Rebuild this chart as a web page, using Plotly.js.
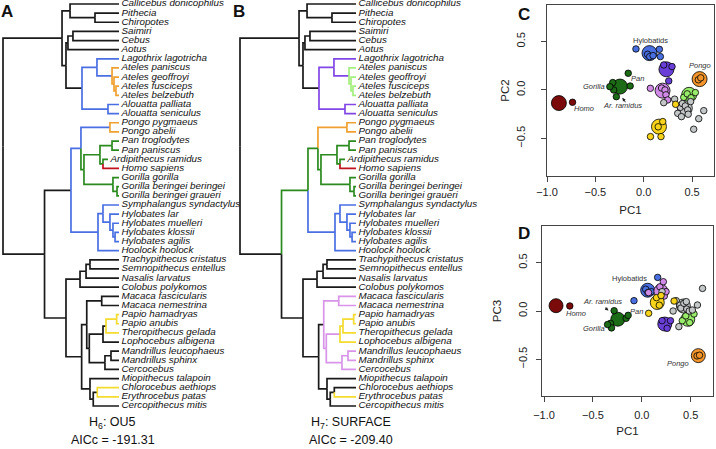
<!DOCTYPE html>
<html><head><meta charset="utf-8">
<script src="https://cdn.plot.ly/plotly-3.0.1.min.js"></script>
<style>html,body{margin:0;padding:0;background:#fff}#chart{width:716px;height:449px}</style>
</head><body><div id="chart"></div>
<script>
// ---------- tree data ----------
const tipLabels = [
 "Callicebus donicophilus","Pithecia","Chiropotes","Saimiri","Cebus","Aotus",
 "Lagothrix lagotricha","Ateles paniscus","Ateles geoffroyi","Ateles fusciceps","Ateles belzebuth",
 "Alouatta palliata","Alouatta seniculus","Pongo pygmaeus","Pongo abelii",
 "Pan troglodytes","Pan paniscus","Ardipithecus ramidus","Homo sapiens",
 "Gorilla gorilla","Gorilla beringei beringei","Gorilla beringei graueri",
 "Symphalangus syndactylus","Hylobates lar","Hylobates muelleri","Hylobates klossii","Hylobates agilis","Hoolock hoolock",
 "Trachypithecus cristatus","Semnopithecus entellus","Nasalis larvatus","Colobus polykomos",
 "Macaca fascicularis","Macaca nemestrina","Papio hamadryas","Papio anubis","Theropithecus gelada","Lophocebus albigena",
 "Mandrillus leucophaeus","Mandrillus sphinx","Cercocebus",
 "Miopithecus talapoin","Chlorocebus aethiops","Erythrocebus patas","Cercopithecus mitis"
];
// topology: tips are 1-based indices into tipLabels; ":d" = absolute node depth (root 0, extant tips 1)
const treeNewick = "(((1,(2,3):0.793):0.578,(((4,5):0.603,6):0.560,((7,(8,(9,(10,11):0.974):0.957):0.940):0.810,(12,13):0.905):0.681):0.543):0.509,((((14,15):0.922,(((16,17):0.940,(18:0.905,19):0.862):0.836,(20,(21,22):0.983):0.948):0.698):0.672,((23,(24,(25,(26,27):0.966):0.948):0.922):0.862,28):0.819):0.586,((((29,30):0.75,31):0.716,32):0.664,(((33,34):0.851,((((35,36):0.98,37):0.888,38):0.862,((39,40):0.931,41):0.879):0.744):0.722,(42,((43,44):0.813,45):0.778):0.75):0.678):0.543):0.358):0";
// regimes: [first tip, last tip, colour key, stem painted]
const regimesA = [[7,13,"blue",0],[8,11,"orange",0],[14,28,"blue",0],[14,15,"orange",0],[16,22,"green",1],[19,19,"red",1],[35,37,"yellow",0],[43,44,"yellow",0]];
const regimesB = [[7,13,"purple",0],[8,11,"lightgreen",0],[14,28,"green",1],[23,28,"blue",1],[14,15,"orange",1],[19,19,"red",1],[33,41,"pink",0],[35,38,"yellow",0],[44,44,"yellow",1]];
const treeTitleA = ["H<sub>6</sub>: OU5","AICc = -191.31"];
const treeTitleB = ["H<sub>7</sub>: SURFACE","AICc = -209.40"];

// ---------- PCA data ----------
const groups = ["Homo","AfricanApes","Hylobatids","Atelidae","Ateles","Papionini","Other","PapioLopho","Pongo"];
const homoPC1=[-0.736], homoPC2=[-0.127], homoPC3=[0.052];
const afrPC1=[-0.16,-0.14,-0.32,-0.31,-0.35,-0.283], afrPC2=[0.172,0.041,0.076,0.0,0.034,-0.069], afrPC3=[-0.076,-0.045,-0.128,-0.175,-0.14,0.003];
const hyloPC1=[-0.08,0.04,0.062,0.097,0.162,0.172], hyloPC2=[0.423,0.368,0.344,0.354,0.419,0.344], hyloPC3=[0.107,0.225,0.19,0.2,0.348,0.23];
const ateliPC1=[0.207,0.259,0.293], ateliPC2=[0.258,0.093,0.241], ateliPC3=[-0.1,-0.179,-0.1];
const atelesPC1=[0.414,0.45,0.49,0.534], atelesPC2=[-0.076,-0.04,-0.08,-0.027], atelesPC3=[-0.1,-0.05,-0.12,-0.031];
const papPC1=[0.069,0.185,0.22,0.23,0.248], papPC2=[0.017,0.02,0.0,-0.05,-0.103], papPC3=[0.19,0.25,0.303,0.155,0.2];
const othPC1=[0.207,0.32,0.352,0.379,0.39,0.40,0.43,0.455,0.46,0.485,0.517,0.569,0.621];
const othPC2=[-0.131,-0.095,-0.241,-0.179,-0.275,-0.14,-0.165,-0.206,-0.25,-0.12,-0.405,-0.296,-0.213];
const othPC3=[0.2,0.0,0.107,-0.162,0.06,0.03,0.08,0.097,0.02,0.0,0.01,0.062,0.234];
const plPC1=[0.07,0.15,0.179,0.197,0.33], plPC2=[-0.481,-0.38,-0.481,-0.326,-0.148], plPC3=[-0.024,0.138,0.06,0.16,0.103];
const pongoPC1=[0.565,0.59], pongoPC2=[0.105,0.125], pongoPC3=[-0.465,-0.458];
// regime optima (large circles), in group order
const optPC1=[-0.877,-0.245,0.06,0.235,0.47,0.195,0.425,0.158,0.578];
const optPC2=[-0.135,0.035,0.38,0.213,-0.05,-0.007,-0.188,-0.378,0.112];
const optPC3=[0.055,-0.085,0.215,-0.135,-0.086,0.205,0.052,0.088,-0.462];
const labelsC = [["Hylobatids",0.069,0.51,0],["Pan",-0.062,0.12,1],["Gorilla",-0.517,0.034,1],["Ar. ramidus",-0.224,-0.165,1],["Homo",-0.621,-0.192,1],["Pongo",0.586,0.248,1]];
const labelsD = [["Hylobatids",-0.122,0.338,0],["Ar. ramidus",-0.402,0.097,1],["Pan",-0.054,-0.007,1],["Homo",-0.669,-0.024,1],["Gorilla",-0.491,-0.179,1],["Pongo",0.373,-0.548,1]];

// ---------- styles ----------
const treeCol = {black:"#1a1a1a",blue:"#4a6fe3",orange:"#f0a030",green:"#2b8a1e",red:"#c1121f",yellow:"#f3dc2e",purple:"#8047e6",lightgreen:"#a4ef7d",pink:"#d894e9"};
const grpCol = {Homo:"#7b0a0a",AfricanApes:"#1c6b16",Hylobatids:"#4a6fe0",Atelidae:"#6a3fd8",Ateles:"#98ec6a",Papionini:"#cf8be6",Other:"#c3c7c7",PapioLopho:"#f7d419",Pongo:"#f3952a"};
const FONT = "Liberation Sans, Arial, Helvetica, sans-serif";
const LABEL_GAP = 2.5/116;

function parseNewick(s){
  let i=0;
  function node(){
    const n={children:[]};
    if(s[i]==='('){ i++; n.children.push(node()); while(s[i]===','){i++; n.children.push(node());} i++; }
    else { let t=''; while(/[0-9]/.test(s[i])) t+=s[i++]; n.tip=+t; }
    if(s[i]===':'){ i++; let t=''; while(/[0-9.]/.test(s[i])) t+=s[i++]; n.depth=+t; }
    else n.depth = n.tip ? 1 : 0;
    n.children.forEach(c=>c.parent=n);
    return n;
  }
  return node();
}
function layout(n){
  if(n.tip){ n.y=n.tip; n.lo=n.hi=n.tip; return; }
  n.children.forEach(layout);
  n.y=(n.children[0].y+n.children[n.children.length-1].y)/2;
  n.lo=Math.min(...n.children.map(c=>c.lo)); n.hi=Math.max(...n.children.map(c=>c.hi));
}
function all(n,arr){arr.push(n); n.children.forEach(c=>all(c,arr)); return arr;}
function buildTree(regimes, xa){
  const root=parseNewick(treeNewick); layout(root);
  const nodes=all(root,[]);
  nodes.forEach(n=>n.col="black");
  regimes.forEach(([a,b,c,stem])=>{
    const t=nodes.find(n=>n.lo===a&&n.hi===b&&(a!==b||n.tip));
    if(stem) t.col=c;
    all(t,[]).forEach(d=>{ if(d!==t) d.col=c; });
  });
  const segs={};
  nodes.forEach(n=>{
    if(!n.parent) return;
    const s=segs[n.col]||(segs[n.col]={x:[],y:[]});
    s.x.push(n.parent.depth,n.parent.depth,n.depth,null);
    s.y.push(n.parent.y,n.y,n.y,null);
  });
  const traces=[];
  ["black","blue","purple","lightgreen","orange","green","pink","yellow","red"].forEach(c=>{
    if(!segs[c]) return;
    traces.push({type:"scatter",mode:"lines",x:segs[c].x,y:segs[c].y,xaxis:xa,yaxis:"y",
      line:{color:treeCol[c],width:1.7},hoverinfo:"skip"});
  });
  const tips=nodes.filter(n=>n.tip);
  traces.push({type:"scatter",mode:"text",x:tips.map(n=>n.depth+LABEL_GAP),y:tips.map(n=>n.y),
    text:tips.map(n=>"<i>"+tipLabels[n.tip-1]+"</i>"),textposition:"middle right",cliponaxis:false,
    textfont:{family:FONT,size:9.8,color:"#111"},xaxis:xa,yaxis:"y",hoverinfo:"skip"});
  return traces;
}

const pcs = {
  Homo:[homoPC1,homoPC2,homoPC3], AfricanApes:[afrPC1,afrPC2,afrPC3], Hylobatids:[hyloPC1,hyloPC2,hyloPC3],
  Atelidae:[ateliPC1,ateliPC2,ateliPC3], Ateles:[atelesPC1,atelesPC2,atelesPC3], Papionini:[papPC1,papPC2,papPC3],
  Other:[othPC1,othPC2,othPC3], PapioLopho:[plPC1,plPC2,plPC3], Pongo:[pongoPC1,pongoPC2,pongoPC3]
};
function scatterTraces(yi, xa, ya, optY, bigSize){
  const tr=[];
  groups.forEach((g,k)=>{
    tr.push({type:"scatter",mode:"markers",x:[optPC1[k]],y:[optY[k]],xaxis:xa,yaxis:ya,
      marker:{size:bigSize,color:grpCol[g],line:{color:"#000",width:0.8}},hoverinfo:"skip"});
    tr.push({type:"scatter",mode:"markers",x:pcs[g][0],y:pcs[g][yi],xaxis:xa,yaxis:ya,
      marker:{size:6.5,color:grpCol[g],line:{color:"#000",width:0.8}},hoverinfo:"skip"});
  });
  return tr;
}

const data = [].concat(buildTree(regimesA,"x"), buildTree(regimesB,"x2"),
  scatterTraces(1,"x3","y3",optPC2,15), scatterTraces(2,"x4","y4",optPC3,14));

const W=716,H=449;
const px=v=>v/W, py=v=>1-v/H;
function pcAxis(dom, rng, tv, title, isY, anchor, lblOff, ttlOff){
  return {domain:dom, range:rng, anchor:anchor, tickvals:tv, ticktext:tv.map(v=>(v<0?"\u2212":"")+Math.abs(v).toFixed(1)),
    showline:true, mirror:true, linecolor:"#444", linewidth:1, ticks:"outside", ticklen:5, tickcolor:"#444",
    tickfont:{family:FONT,size:11,color:"#222"}, tickangle:isY?-90:0, ticklabelstandoff:lblOff,
    showgrid:false, zeroline:false, automargin:false, fixedrange:true,
    title:{text:title, font:{family:FONT,size:11.5,color:"#222"}, standoff:ttlOff}};
}
const ann=[];
const letter=(t,x,y)=>ann.push({text:"<b>"+t+"</b>",x:px(x),y:py(y),xref:"paper",yref:"paper",showarrow:false,xanchor:"center",yanchor:"middle",font:{family:FONT,size:17,color:"#111"}});
letter("A",7,12); letter("B",239,12); letter("C",524,15); letter("D",524,234);
[[treeTitleA,113],[treeTitleB,351]].forEach(([t,x])=>{
  ann.push({text:t[0],x:px(x),y:py(423),xref:"paper",yref:"paper",showarrow:false,xanchor:"center",yanchor:"middle",font:{family:FONT,size:12.5,color:"#111"}});
  ann.push({text:t[1],x:px(x),y:py(440),xref:"paper",yref:"paper",showarrow:false,xanchor:"center",yanchor:"middle",font:{family:FONT,size:12.5,color:"#111"}});
});
[[labelsC,"x3","y3"],[labelsD,"x4","y4"]].forEach(([L,xa,ya])=>L.forEach(([t,x,y,it])=>{
  ann.push({text:it?"<i>"+t+"</i>":t,x:x,y:y,xref:xa,yref:ya,showarrow:false,xanchor:"center",yanchor:"middle",font:{family:FONT,size:7.5,color:"#333"}});
}));
ann.push({text:"",x:-0.22,y:-0.08,xref:"x3",yref:"y3",showarrow:true,arrowhead:2,arrowsize:0.7,arrowwidth:1,arrowcolor:"#222",ax:4,ay:6});
ann.push({text:"",x:-0.34,y:0.005,xref:"x4",yref:"y4",showarrow:true,arrowhead:2,arrowsize:0.7,arrowwidth:1,arrowcolor:"#222",ax:-5,ay:-4});

const layoutObj = {
  width:W, height:H, margin:{l:0,r:0,t:0,b:0}, paper_bgcolor:"#fff", plot_bgcolor:"rgba(0,0,0,0)", showlegend:false,
  xaxis:{domain:[0,px(230)], range:[-3/116,227/116], visible:false, fixedrange:true},
  xaxis2:{domain:[px(230),px(466)], range:[-10/116,226/116], visible:false, fixedrange:true, anchor:"y"},
  yaxis:{domain:[0,1], range:[1+445/9.136, 1-4/9.136], visible:false, fixedrange:true},
  xaxis3:pcAxis([px(547),px(714)],[-1.0,0.727],[-1,-0.5,0,0.5],"PC1",false,"y3",1,8),
  yaxis3:pcAxis([py(176),py(5)],[-0.887,0.876],[-0.5,0,0.5],"PC2",true,"x3",12,2),
  xaxis4:pcAxis([px(542),px(713)],[-1.0205,0.728],[-1,-0.5,0,0.5],"PC1",false,"y4",4,6),
  yaxis4:pcAxis([py(396),py(226)],[-0.88,0.88],[-0.5,0,0.5],"PC3",true,"x4",5,12),
  annotations:ann
};
Plotly.newPlot("chart", data, layoutObj, {staticPlot:true, displayModeBar:false});
</script></body></html>
